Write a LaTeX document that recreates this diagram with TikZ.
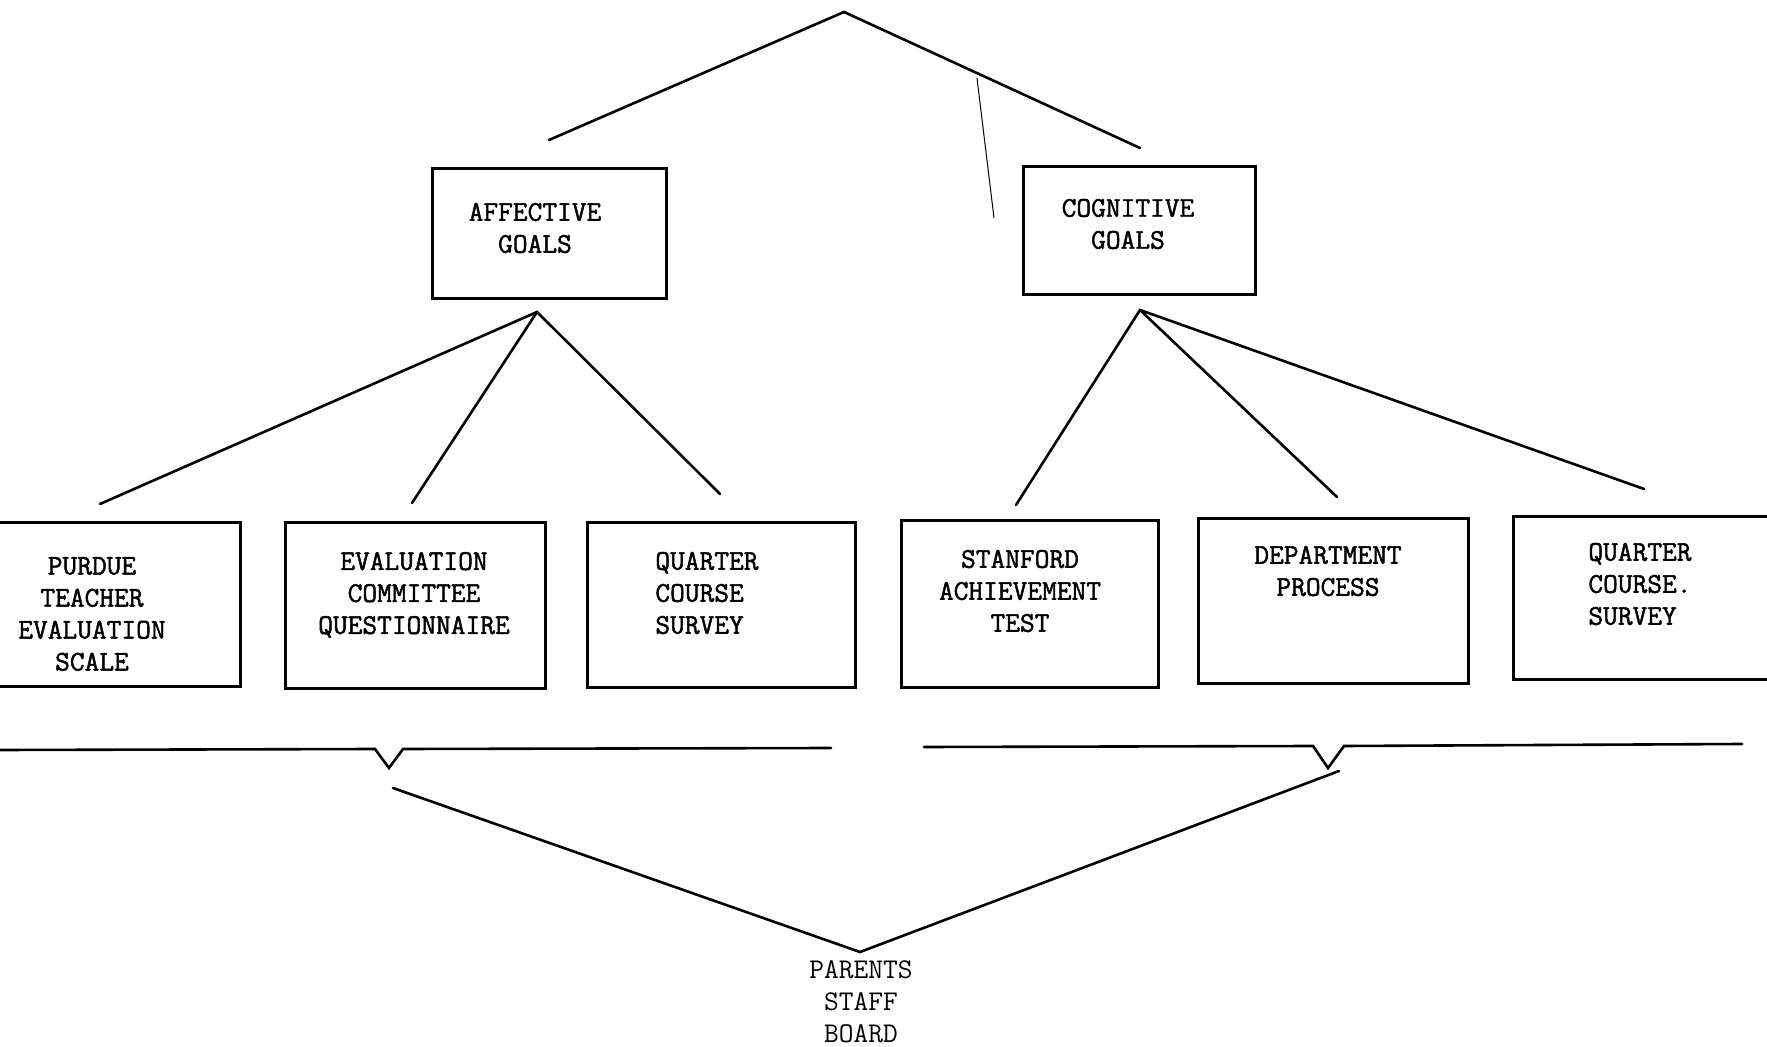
\documentclass[tikz,border=0pt]{standalone}
\usepackage{fontspec}
\newfontfamily\tyb{Latin Modern Mono}[FakeBold=1.6]
\usetikzlibrary{fit}
\begin{document}
\begin{tikzpicture}[x=0.5pt,y=-0.5pt,
 box/.style={draw,line width=1.5pt,inner sep=0pt},
 lbl/.style={font=\tyb\fontsize{14.3}{16}\selectfont,align=center,inner sep=0pt},
 lbll/.style={lbl,align=left,anchor=west},
 lbln/.style={font=\ttfamily\fontsize{14.3}{16}\selectfont,align=center,inner sep=0pt},
 con/.style={line width=1.3pt,line cap=round,line join=miter},
 thinline/.style={line width=0.5pt}]
\useasboundingbox (0,0) rectangle (1767,1047);
\clip (0,0) rectangle (1767,1047);
% boxes
\node[box,fit={(432,169)(666,299)}] (aff) {};
\node[box,fit={(1023,167)(1255,295)}] (cog) {};
\node[box,fit={(-20,523)(240,686)}] (pur) {};
\node[box,fit={(285,523)(545,688)}] (evc) {};
\node[box,fit={(587,523)(855,687)}] (qcl) {};
\node[box,fit={(901,521)(1158,687)}] (sat) {};
\node[box,fit={(1198,519)(1468,683)}] (dep) {};
\node[box,fit={(1513,517)(1790,679)}] (qcr) {};
% labels
\node[lbl] (affT) at (535,228) {AFFECTIVE\\GOALS};
\node[lbl] (cogT) at (1128,224) {COGNITIVE\\GOALS};
\node[lbl] (purT) at (92,614) {PURDUE\\TEACHER\\EVALUATION\\SCALE};
\node[lbl] (evcT) at (414,595) {EVALUATION\\COMMITTEE\\QUESTIONNAIRE};
\node[lbll] (qclT) at (655,593) {QUARTER\\COURSE\\SURVEY};
\node[lbl] (satT) at (1020,591) {STANFORD\\ACHIEVEMENT\\TEST};
\node[lbl] (depT) at (1328,571) {DEPARTMENT\\PROCESS};
\node[lbll] (qcrT) at (1588,584) {QUARTER\\COURSE.\\SURVEY};
\node[lbln] (psb) at (861,1002) {PARENTS\\STAFF\\BOARD};
% coordinates
\coordinate (top) at (844,12);
\coordinate (topL) at (549,140);
\coordinate (topR) at (1140,148);
\coordinate (th1) at (977,78);
\coordinate (th2) at (994,218);
\coordinate (aA) at (537,312);
\coordinate (a1) at (100,504);
\coordinate (a2) at (412,503);
\coordinate (a3) at (720,494);
\coordinate (cA) at (1140,310);
\coordinate (c1) at (1016,505);
\coordinate (c2) at (1337,497);
\coordinate (c3) at (1644,489);
\coordinate (vL) at (393,788);
\coordinate (vA) at (860,952);
\coordinate (vR) at (1339,771);
% connectors
\draw[con] (topL) -- (top) -- (topR);
\draw[thinline] (th1) -- (th2);
\draw[con] (a1) -- (aA) -- (a3);
\draw[con] (aA) -- (a2);
\draw[con] (c1) -- (cA) -- (c3);
\draw[con] (cA) -- (c2);
\draw[con] (vL) -- (vA) -- (vR);
% brace rules
\draw[con] (0,750) -- (375,749) -- (389,768) -- (403,749) -- (831,748);
\draw[con] (924,747) -- (1313,746) -- (1328,768) -- (1344,746) -- (1742,744);
\end{tikzpicture}
\end{document}
